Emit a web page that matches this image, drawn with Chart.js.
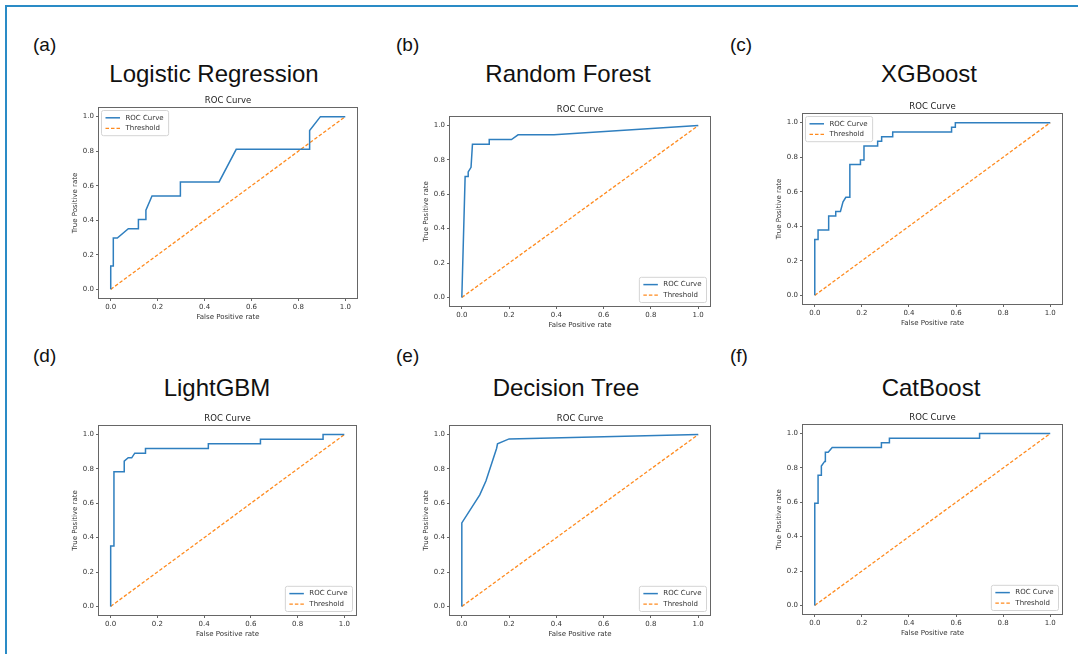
<!DOCTYPE html>
<html>
<head>
<meta charset="utf-8">
<script src="https://cdn.jsdelivr.net/npm/chart.js@4"></script>
<style>
  body { margin: 0; background: #fff; width: 1078px; height: 654px; overflow: hidden; position: relative; }
  #frame { position: absolute; left: 5px; top: 5px; right: 0; bottom: 0;
           border-top: 2px solid #2a8bc6; border-left: 2px solid #2a8bc6; }
  .tag { position: absolute; font: 19px "Liberation Sans", Arial, sans-serif; line-height: 19px; color: #111; }
  .big { position: absolute; width: 320px; text-align: center; font: 24px "Liberation Sans", Arial, sans-serif;
         line-height: 24px; color: #111; }
  canvas { position: absolute; }
</style>
</head>
<body>
<div id="frame"></div>
<script>
const modelNames = ['Logistic Regression', 'Random Forest', 'XGBoost', 'LightGBM', 'Decision Tree', 'CatBoost'];
const panelTags = ['(a)', '(b)', '(c)', '(d)', '(e)', '(f)'];
const axisTicks = [0, 0.2, 0.4, 0.6, 0.8, 1.0];
const seriesNames = ['ROC Curve', 'Threshold'];

// ROC points
const lrFpr = [0, 0, 0.011, 0.011, 0.028, 0.075, 0.118, 0.118, 0.150, 0.150, 0.176, 0.297, 0.297, 0.462, 0.535, 0.848, 0.848, 0.894, 1.0];
const lrTpr = [0, 0.135, 0.135, 0.297, 0.297, 0.351, 0.351, 0.405, 0.405, 0.459, 0.541, 0.541, 0.622, 0.622, 0.811, 0.811, 0.919, 1.0, 1.0];

const rfFpr = [0, 0.014, 0.027, 0.027, 0.039, 0.045, 0.116, 0.116, 0.210, 0.238, 0.39, 1.0];
const rfTpr = [0, 0.703, 0.703, 0.730, 0.757, 0.892, 0.892, 0.919, 0.919, 0.946, 0.946, 1.0];

const xgbFpr = [0, 0, 0.014, 0.014, 0.059, 0.059, 0.089, 0.089, 0.109, 0.120, 0.132, 0.149, 0.149, 0.194, 0.194, 0.209, 0.209, 0.267, 0.267, 0.284, 0.284, 0.331, 0.331, 0.581, 0.581, 0.597, 0.597, 1.0];
const xgbTpr = [0, 0.324, 0.324, 0.378, 0.378, 0.459, 0.459, 0.486, 0.486, 0.541, 0.568, 0.568, 0.757, 0.757, 0.784, 0.784, 0.865, 0.865, 0.892, 0.892, 0.919, 0.919, 0.946, 0.946, 0.973, 0.973, 1.0, 1.0];

const lgbFpr = [0, 0, 0.014, 0.014, 0.058, 0.058, 0.075, 0.090, 0.103, 0.149, 0.149, 0.418, 0.418, 0.641, 0.641, 0.909, 0.909, 1.0];
const lgbTpr = [0, 0.351, 0.351, 0.784, 0.784, 0.846, 0.865, 0.865, 0.892, 0.892, 0.919, 0.919, 0.946, 0.946, 0.973, 0.973, 1.0, 1.0];

const dtFpr = [0, 0, 0.076, 0.102, 0.147, 0.151, 0.200, 1.0];
const dtTpr = [0, 0.486, 0.649, 0.730, 0.919, 0.946, 0.975, 1.0];

const cbFpr = [0, 0, 0.014, 0.014, 0.028, 0.028, 0.042, 0.045, 0.045, 0.057, 0.074, 0.283, 0.283, 0.317, 0.317, 0.700, 0.700, 1.0];
const cbTpr = [0, 0.595, 0.595, 0.757, 0.757, 0.811, 0.838, 0.838, 0.892, 0.892, 0.919, 0.919, 0.946, 0.946, 0.973, 0.973, 1.0, 1.0];

const diagFpr = [0, 1];
const diagTpr = [0, 1];

const rocFpr = [lrFpr, rfFpr, xgbFpr, lgbFpr, dtFpr, cbFpr];
const rocTpr = [lrTpr, rfTpr, xgbTpr, lgbTpr, dtTpr, cbTpr];

// where each subplot sits: axes box [left, top, right, bottom], big title centre, tag position
const panels = [
  { box: [99, 108, 357, 298], title: [214, 74], tag: [33, 44], legend: 'upper left' },
  { box: [450, 117, 710, 306], title: [568, 74], tag: [396, 44], legend: 'lower right' },
  { box: [803, 114, 1062, 304], title: [929, 74], tag: [730, 44], legend: 'upper left' },
  { box: [99, 426, 356, 615], title: [217, 388], tag: [33, 355], legend: 'lower right' },
  { box: [450, 426, 710, 615], title: [566, 388], tag: [396, 355], legend: 'lower right' },
  { box: [803, 425, 1062, 614], title: [931, 388], tag: [730, 355], legend: 'lower right' }
];

const YW = 30, XH = 23, TH = 12, PR = 6, PB = 2;
const FONT = "'DejaVu Sans', sans-serif";

const boxLegend = {
  id: 'boxLegend',
  afterDatasetsDraw(chart, args, opts) {
    const { ctx, chartArea: { left, right, top, bottom } } = chart;
    const items = chart.data.datasets;
    ctx.save();
    ctx.font = '7px ' + FONT;
    const textW = Math.max(...items.map(d => ctx.measureText(d.label).width));
    const rowH = 10.6;
    const w = 24 + textW + 5;
    const h = rowH * items.length + 4;
    const x = opts.loc === 'upper left' ? left + 2.5 : right - 3.5 - w;
    const y = opts.loc === 'upper left' ? top + 2.5 : bottom - 3.5 - h;

    ctx.beginPath();
    ctx.roundRect(x, y, w, h, 2);
    ctx.fillStyle = 'rgba(255,255,255,0.85)';
    ctx.fill();
    ctx.strokeStyle = '#d4d4d4';
    ctx.lineWidth = 1;
    ctx.stroke();

    items.forEach((d, i) => {
      const cy = y + 2 + rowH * (i + 0.5);
      ctx.beginPath();
      ctx.strokeStyle = d.borderColor;
      ctx.lineWidth = d.borderWidth;
      ctx.setLineDash(d.borderDash || []);
      ctx.moveTo(x + 4, cy);
      ctx.lineTo(x + 18.5, cy);
      ctx.stroke();
      ctx.setLineDash([]);
      ctx.fillStyle = '#333';
      ctx.textBaseline = 'middle';
      ctx.fillText(d.label, x + 24, cy);
    });
    ctx.restore();
  }
};

const axesFrame = {
  id: 'axesFrame',
  afterDraw(chart) {
    const { ctx, chartArea: { left, top, width, height } } = chart;
    ctx.save();
    ctx.strokeStyle = '#666';
    ctx.lineWidth = 1;
    ctx.strokeRect(left - 0.5, top - 0.5, width + 1, height + 1);
    ctx.restore();
  }
};

function toPoints(xs, ys) {
  return xs.map((x, i) => ({ x: x, y: ys[i] }));
}

function axisOptions(titleText, isX) {
  return {
    type: 'linear',
    min: -0.05,
    max: 1.05,
    afterFit: s => { if (isX) s.height = XH; else s.width = YW; },
    afterBuildTicks: s => { s.ticks = axisTicks.map(v => ({ value: v })); },
    ticks: {
      callback: v => Number(v).toFixed(1),
      color: '#333',
      font: { family: FONT, size: 7 },
      padding: 2,
      maxRotation: 0,
      autoSkip: false
    },
    grid: { display: true, drawOnChartArea: false, drawTicks: true, tickLength: 3, color: '#666' },
    border: { display: false },
    title: { display: true, text: titleText, color: '#333', font: { family: FONT, size: 7 }, padding: isX ? 0 : { top: 2 } }
  };
}

panels.forEach((p, i) => {
  const [l, t, r, b] = p.box;

  const tag = document.createElement('div');
  tag.className = 'tag';
  tag.textContent = panelTags[i];
  tag.style.left = p.tag[0] + 'px';
  tag.style.top = (p.tag[1] - 9.3) + 'px';
  document.body.appendChild(tag);

  const big = document.createElement('div');
  big.className = 'big';
  big.textContent = modelNames[i];
  big.style.left = (p.title[0] - 160) + 'px';
  big.style.top = (p.title[1] - 11.8) + 'px';
  document.body.appendChild(big);

  const cv = document.createElement('canvas');
  cv.width = (r - l) + YW + PR;
  cv.height = TH + (b - t) + XH + PB;
  cv.style.left = (l - YW) + 'px';
  cv.style.top = (t - TH) + 'px';
  document.body.appendChild(cv);

  new Chart(cv, {
    type: 'scatter',
    data: {
      datasets: [
        {
          label: seriesNames[0],
          data: toPoints(rocFpr[i], rocTpr[i]),
          showLine: true,
          borderColor: '#2f7fbf',
          borderWidth: 1.5,
          pointRadius: 0,
          tension: 0
        },
        {
          label: seriesNames[1],
          data: toPoints(diagFpr, diagTpr),
          showLine: true,
          borderColor: '#ff8a1e',
          borderWidth: 1.3,
          borderDash: [3.5, 2],
          pointRadius: 0
        }
      ]
    },
    options: {
      responsive: false,
      animation: false,
      layout: { padding: { top: 0, right: PR, bottom: PB, left: 0 } },
      plugins: {
        legend: { display: false },
        tooltip: { enabled: false },
        title: {
          display: true,
          text: 'ROC Curve',
          fullSize: false,
          color: '#222',
          font: { family: FONT, size: 8.5, weight: 'normal', lineHeight: 1.2 },
          padding: { top: 0, bottom: 1.8 }
        },
        boxLegend: { loc: p.legend }
      },
      scales: {
        x: axisOptions('False Positive rate', true),
        y: axisOptions('True Positive rate', false)
      }
    },
    plugins: [boxLegend, axesFrame]
  });
});
</script>
</body>
</html>
